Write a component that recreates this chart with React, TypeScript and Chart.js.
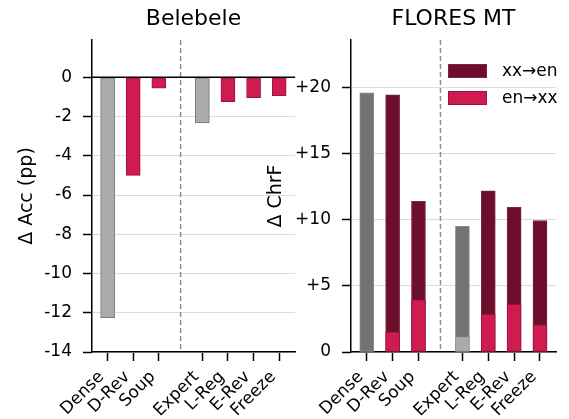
import React, { useEffect, useRef } from 'react';
import { Chart, registerables } from 'chart.js';

Chart.register(...registerables);

const FONT = '"DejaVu Sans", sans-serif';

// ---- data ----
const categories = ['Dense', 'D-Rev', 'Soup', 'Expert', 'L-Reg', 'E-Rev', 'Freeze'];
const categoryPositions = [0, 1, 2, 3.7, 4.7, 5.7, 6.7];
const separatorPosition = 2.85;

const belebeleDeltaAcc = [-12.25, -5.0, -0.55, -2.33, -1.24, -1.04, -0.94];
const belebeleTicks = [0, -2, -4, -6, -8, -10, -12, -14];

const floresXxEn = [19.6, 19.45, 11.4, 9.5, 12.2, 10.95, 9.95];
const floresEnXx = [0, 1.5, 3.95, 1.15, 2.85, 3.6, 2.05];
const floresTicks = [0, 5, 10, 15, 20];

const baselineFlags = [true, false, false, true, false, false, false];

// ---- colours ----
const GRAY_LIGHT = '#ababab';
const GRAY_LIGHT_EDGE = '#757575';
const GRAY_DARK = '#737373';
const CRIMSON = '#cf1c50';
const CRIMSON_EDGE = '#9a1340';
const MAROON = '#6d0f2c';
const MAROON_EDGE = '#7f2340';

const separatorPlugin = {
  id: 'separator',
  beforeDatasetsDraw(chart: any) {
    const { ctx, chartArea, scales } = chart;
    const x = scales.x.getPixelForValue(separatorPosition);
    ctx.save();
    ctx.strokeStyle = '#8e8e8e';
    ctx.lineWidth = 1.5;
    ctx.setLineDash([5, 3]);
    ctx.beginPath();
    ctx.moveTo(x, chartArea.top);
    ctx.lineTo(x, chartArea.bottom);
    ctx.stroke();
    ctx.restore();
  },
};

const zeroLinePlugin = {
  id: 'zeroLine',
  afterDatasetsDraw(chart: any) {
    const { ctx, chartArea, scales } = chart;
    const y = scales.y.getPixelForValue(0);
    ctx.save();
    ctx.strokeStyle = '#000';
    ctx.lineWidth = 1.5;
    ctx.beginPath();
    ctx.moveTo(chartArea.left, y);
    ctx.lineTo(chartArea.right, y);
    ctx.stroke();
    ctx.restore();
  },
};

const boxLegendPlugin = {
  id: 'boxLegend',
  afterDraw(chart: any) {
    const { ctx, chartArea } = chart;
    const items = [
      { label: chart.data.datasets[0].label, color: MAROON, edge: MAROON_EDGE },
      { label: chart.data.datasets[1].label, color: CRIMSON, edge: CRIMSON_EDGE },
    ];
    const left = chartArea.right - 108;
    let top = chartArea.top + 24;
    ctx.save();
    ctx.font = `17px ${FONT}`;
    ctx.textBaseline = 'middle';
    ctx.textAlign = 'left';
    items.forEach((it) => {
      ctx.fillStyle = it.color;
      ctx.fillRect(left, top, 39, 14);
      ctx.strokeStyle = it.edge;
      ctx.lineWidth = 1;
      ctx.strokeRect(left + 0.5, top + 0.5, 38, 13);
      ctx.fillStyle = '#000';
      ctx.fillText(it.label, left + 54, top + 8);
      top += 27;
    });
    ctx.restore();
  },
};

function xScale(): any {
  return {
    type: 'linear',
    min: -0.61,
    max: 7.32,
    offset: false,
    afterBuildTicks: (s: any) => {
      s.ticks = categoryPositions.map((v) => ({ value: v }));
    },
    afterFit: (s: any) => {
      s.height = 67;
    },
    ticks: {
      autoSkip: false,
      minRotation: 45,
      maxRotation: 45,
      padding: 6,
      labelOffset: -6,
      color: '#000',
      font: { family: FONT, size: 17 },
      callback: (_v: any, i: number) => categories[i],
    },
    grid: {
      drawOnChartArea: false,
      offset: false,
      tickColor: '#000',
      tickLength: 9,
      tickWidth: 1.5,
    },
    border: { color: '#000', width: 1.5 },
  };
}

function yScale(opts: {
  min: number;
  max: number;
  ticks: number[];
  width: number;
  title: string;
  titlePad: number;
  fmt: (v: number) => string;
}): any {
  return {
    min: opts.min,
    max: opts.max,
    afterBuildTicks: (s: any) => {
      s.ticks = opts.ticks.map((v) => ({ value: v }));
    },
    afterFit: (s: any) => {
      s.width = opts.width;
    },
    ticks: {
      padding: 11,
      color: '#000',
      font: { family: FONT, size: 17 },
      callback: (v: any) => opts.fmt(Number(v)),
    },
    grid: {
      color: '#dcdcdc',
      lineWidth: 1,
      tickColor: '#000',
      tickLength: 9,
      tickWidth: 1.5,
    },
    border: { color: '#000', width: 1.5 },
    title: {
      display: true,
      text: opts.title,
      color: '#000',
      font: { family: FONT, size: 19 },
      padding: { top: opts.titlePad, bottom: 0 },
    },
  };
}

function titleOpts(text: string): any {
  return {
    display: true,
    text,
    fullSize: false,
    color: '#000',
    font: { family: FONT, size: 22, weight: 'normal' },
    padding: { top: 0, bottom: 7.4 },
  };
}

function belebeleConfig(): any {
  return {
    type: 'bar',
    data: {
      datasets: [
        {
          label: 'Belebele',
          data: categoryPositions.map((x, i) => ({ x, y: belebeleDeltaAcc[i] })),
          backgroundColor: baselineFlags.map((b) => (b ? GRAY_LIGHT : CRIMSON)),
          borderColor: baselineFlags.map((b) => (b ? GRAY_LIGHT_EDGE : CRIMSON_EDGE)),
          borderWidth: 1,
          borderSkipped: false,
          barThickness: 14,
        },
      ],
    },
    options: {
      responsive: false,
      animation: false,
      layout: { padding: { top: 6.2, right: 3, left: 0, bottom: 0 } },
      scales: {
        x: xScale(),
        y: yScale({
          min: -14,
          max: 1.9,
          ticks: belebeleTicks,
          width: 92,
          title: 'Δ Acc (pp)',
          titlePad: 15.5,
          fmt: (v) => String(v),
        }),
      },
      plugins: {
        legend: { display: false },
        tooltip: { enabled: false },
        title: titleOpts('Belebele'),
      },
    },
    plugins: [separatorPlugin, zeroLinePlugin],
  };
}

function floresConfig(): any {
  return {
    type: 'bar',
    data: {
      datasets: [
        {
          label: 'xx→en',
          order: 2,
          grouped: false,
          data: categoryPositions.map((x, i) => ({ x, y: floresXxEn[i] })),
          backgroundColor: baselineFlags.map((b) => (b ? GRAY_DARK : MAROON)),
          borderColor: baselineFlags.map((b) => (b ? '#8a8a8a' : MAROON_EDGE)),
          borderWidth: 1,
          borderSkipped: false,
          barThickness: 14,
        },
        {
          label: 'en→xx',
          order: 1,
          grouped: false,
          data: categoryPositions.map((x, i) => ({ x, y: floresEnXx[i] })),
          backgroundColor: baselineFlags.map((b) => (b ? GRAY_LIGHT : CRIMSON)),
          borderColor: baselineFlags.map((b) => (b ? '#959595' : CRIMSON_EDGE)),
          borderWidth: (ctx: any) => (floresEnXx[ctx.dataIndex] ? 1 : 0),
          borderSkipped: false,
          barThickness: 14,
        },
      ],
    },
    options: {
      responsive: false,
      animation: false,
      layout: { padding: { top: 6.2, right: 13, left: 0, bottom: 0 } },
      scales: {
        x: xScale(),
        y: yScale({
          min: 0,
          max: 23.6,
          ticks: floresTicks,
          width: 91,
          title: 'Δ ChrF',
          titlePad: 4.5,
          fmt: (v) => (v === 0 ? '0' : '+' + v),
        }),
      },
      plugins: {
        legend: { display: false },
        tooltip: { enabled: false },
        title: titleOpts('FLORES MT'),
      },
    },
    plugins: [separatorPlugin, boxLegendPlugin],
  };
}

function Panel({ make, left, width }: { make: () => any; left: number; width: number }) {
  const ref = useRef<HTMLCanvasElement>(null);
  useEffect(() => {
    const chart = new Chart(ref.current as HTMLCanvasElement, make());
    return () => chart.destroy();
  }, []);
  return (
    <canvas
      ref={ref}
      width={width}
      height={419}
      style={{ position: 'absolute', left, top: 0, width, height: 419 }}
    />
  );
}

export default function App() {
  return (
    <div
      style={{
        position: 'fixed',
        left: 0,
        top: 0,
        width: 569,
        height: 419,
        background: '#fff',
        overflow: 'hidden',
      }}
    >
      <Panel make={belebeleConfig} left={0} width={300} />
      <Panel make={floresConfig} left={260} width={309} />
    </div>
  );
}
